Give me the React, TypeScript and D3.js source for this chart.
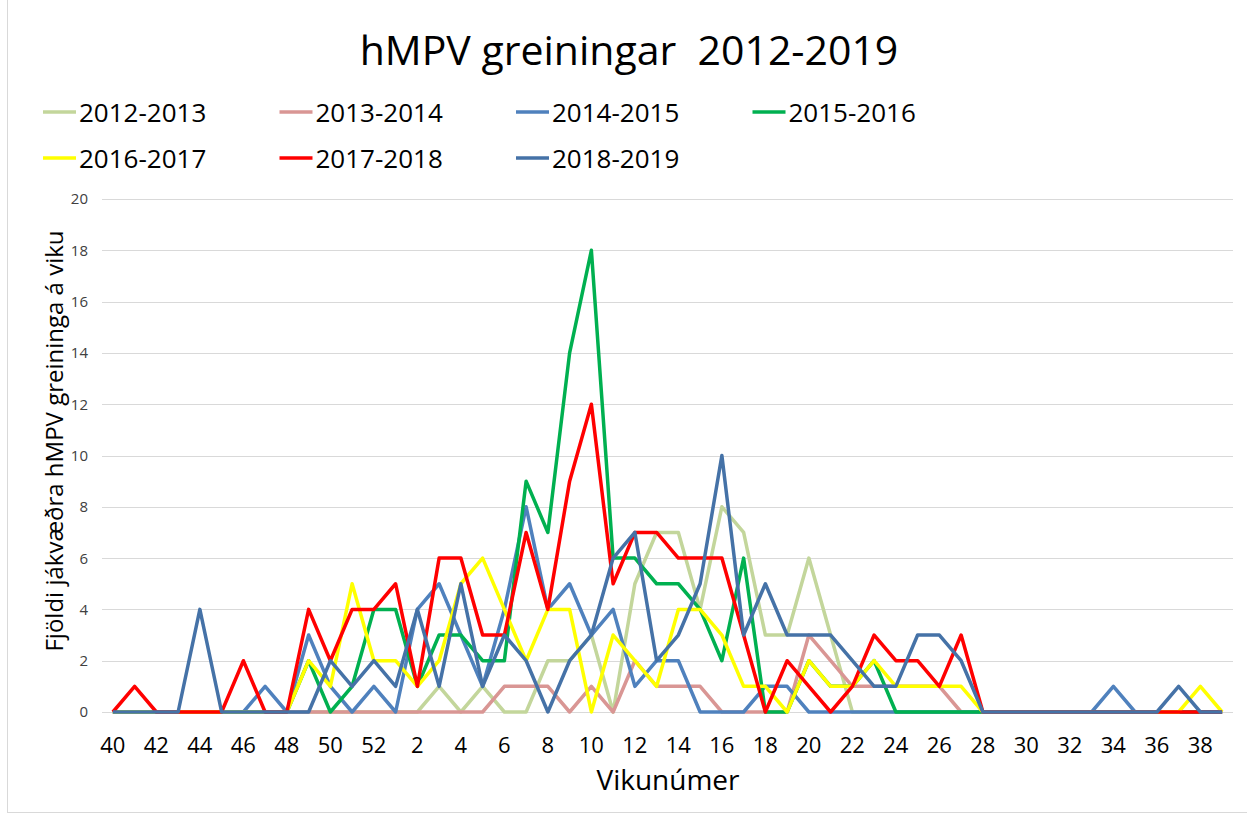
import React, { useEffect, useRef } from 'react';
import * as d3 from 'd3';

// Vikur 40-52 og 1-39
const weeks: number[] = [
  40, 41, 42, 43, 44, 45, 46, 47, 48, 49, 50, 51, 52,
  1, 2, 3, 4, 5, 6, 7, 8, 9, 10, 11, 12, 13, 14, 15, 16, 17, 18, 19, 20,
  21, 22, 23, 24, 25, 26, 27, 28, 29, 30, 31, 32, 33, 34, 35, 36, 37, 38, 39,
];

const s2012: number[] = [
  0, 0, 0, 0, 0, 0, 0, 0, 0, 0, 0, 0, 0,
  0, 0, 1, 0, 1, 0, 0, 2, 2, 3, 0, 5, 7, 7, 4, 8, 7, 3, 3, 6,
  3, 0, 0, 0, 0, 0, 0, 0, 0, 0, 0, 0, 0, 0, 0, 0, 0, 0, 0,
];
const s2013: number[] = [
  0, 0, 0, 0, 0, 0, 0, 0, 0, 0, 0, 0, 0,
  0, 0, 0, 0, 0, 1, 1, 1, 0, 1, 0, 2, 1, 1, 1, 0, 0, 0, 0, 3,
  2, 1, 1, 1, 1, 1, 0, 0, 0, 0, 0, 0, 0, 0, 0, 0, 0, 0, 0,
];
const s2014: number[] = [
  0, 0, 0, 0, 0, 0, 0, 1, 0, 3, 1, 0, 1,
  0, 4, 5, 3, 1, 4, 8, 4, 5, 3, 4, 1, 2, 2, 0, 0, 0, 1, 1, 0,
  0, 0, 0, 0, 0, 0, 0, 0, 0, 0, 0, 0, 0, 1, 0, 0, 0, 0, 0,
];
const s2015: number[] = [
  0, 0, 0, 0, 0, 0, 0, 0, 0, 2, 0, 1, 4,
  4, 1, 3, 3, 2, 2, 9, 7, 14, 18, 6, 6, 5, 5, 4, 2, 6, 0, 0, 2,
  1, 1, 2, 0, 0, 0, 0, 0, 0, 0, 0, 0, 0, 0, 0, 0, 0, 0, 0,
];
const s2016: number[] = [
  0, 0, 0, 0, 0, 0, 0, 0, 0, 2, 1, 5, 2,
  2, 1, 2, 5, 6, 4, 2, 4, 4, 0, 3, 2, 1, 4, 4, 3, 1, 1, 0, 2,
  1, 1, 2, 1, 1, 1, 1, 0, 0, 0, 0, 0, 0, 0, 0, 0, 0, 1, 0,
];
const s2017: number[] = [
  0, 1, 0, 0, 0, 0, 2, 0, 0, 4, 2, 4, 4,
  5, 1, 6, 6, 3, 3, 7, 4, 9, 12, 5, 7, 7, 6, 6, 6, 3, 0, 2, 1,
  0, 1, 3, 2, 2, 1, 3, 0, 0, 0, 0, 0, 0, 0, 0, 0, 0, 0, 0,
];
const s2018: number[] = [
  0, 0, 0, 0, 4, 0, 0, 0, 0, 0, 2, 1, 2,
  1, 4, 1, 5, 1, 3, 2, 0, 2, 3, 6, 7, 2, 3, 5, 10, 3, 5, 3, 3,
  3, 2, 1, 1, 3, 3, 2, 0, 0, 0, 0, 0, 0, 0, 0, 0, 1, 0, 0,
];

const seasonNames = ['2012-2013', '2013-2014', '2014-2015', '2015-2016', '2016-2017', '2017-2018', '2018-2019'];
const seasonColors = ['#C3D69B', '#D99694', '#4F81BD', '#00B050', '#FFFF00', '#FF0000', '#4572A7'];
const seasonValues = [s2012, s2013, s2014, s2015, s2016, s2017, s2018];

const yTicks = [0, 2, 4, 6, 8, 10, 12, 14, 16, 18, 20];
const xTickWeeks = weeks.filter((w, i) => i % 2 === 0);

const FONT = '"Open Sans", sans-serif';

const HmpvChart: React.FC = () => {
  const svgRef = useRef<SVGSVGElement>(null);

  useEffect(() => {
    if (!svgRef.current) return;
    const svg = d3.select(svgRef.current);
    svg.selectAll('*').remove();

    const W = 1247;
    const H = 814;
    const plot = { left: 102, right: 1233, top: 199, bottom: 712 };

    svg.append('rect').attr('width', W).attr('height', H).attr('fill', '#fff');

    // ramminn
    svg.append('line')
      .attr('x1', 7.5).attr('x2', 7.5).attr('y1', 0).attr('y2', 813)
      .attr('stroke', '#d9d9d9');
    svg.append('line')
      .attr('x1', 7.5).attr('x2', W).attr('y1', 812.5).attr('y2', 812.5)
      .attr('stroke', '#d9d9d9');

    const x = d3.scalePoint<number>()
      .domain(weeks)
      .range([plot.left, plot.right])
      .padding(0.5);

    const y = d3.scaleLinear()
      .domain([0, 20])
      .range([plot.bottom, plot.top]);

    // Grid lines
    svg.append('g')
      .selectAll('line')
      .data(yTicks)
      .enter()
      .append('line')
      .attr('x1', plot.left)
      .attr('x2', plot.right)
      .attr('y1', d => Math.round(y(d)) + 0.5)
      .attr('y2', d => Math.round(y(d)) + 0.5)
      .attr('stroke', '#d9d9d9')
      .attr('stroke-width', 1);

    // y ticks
    svg.append('g')
      .selectAll('text')
      .data(yTicks)
      .enter()
      .append('text')
      .attr('x', 88)
      .attr('y', d => y(d))
      .attr('dy', '0.36em')
      .attr('text-anchor', 'end')
      .attr('font-family', FONT)
      .attr('font-size', 15)
      .attr('fill', '#404040')
      .text(d => d);

    // x ticks
    svg.append('g')
      .selectAll('text')
      .data(xTickWeeks)
      .enter()
      .append('text')
      .attr('x', d => x(d) as number)
      .attr('y', 753)
      .attr('text-anchor', 'middle')
      .attr('font-family', FONT)
      .attr('font-size', 22)
      .attr('fill', '#000')
      .text(d => d);

    // Lines
    const line = d3.line<number>()
      .x((d, i) => x(weeks[i]) as number)
      .y(d => y(d));

    seasonValues.forEach((vals, k) => {
      svg.append('path')
        .datum(vals)
        .attr('fill', 'none')
        .attr('stroke', seasonColors[k])
        .attr('stroke-width', 3.5)
        .attr('stroke-linejoin', 'round')
        .attr('d', line);
    });

    // Title
    svg.append('text')
      .attr('x', 629)
      .attr('y', 65)
      .attr('text-anchor', 'middle')
      .attr('font-family', FONT)
      .attr('font-size', 41)
      .attr('fill', '#000')
      .attr('xml:space', 'preserve')
      .style('white-space', 'pre')
      .text('hMPV greiningar  2012-2019');

    // Legend
    const legend = svg.append('g');
    seasonNames.forEach((name, k) => {
      const col = k % 4;
      const row = Math.floor(k / 4);
      const lx = 43 + col * 236.5;
      const ly = 112 + row * 46;
      legend.append('line')
        .attr('x1', lx).attr('x2', lx + 33)
        .attr('y1', ly).attr('y2', ly)
        .attr('stroke', seasonColors[k])
        .attr('stroke-width', 3.5);
      legend.append('text')
        .attr('x', lx + 36)
        .attr('y', ly + 10)
        .attr('font-family', FONT)
        .attr('font-size', 26)
        .attr('fill', '#000')
        .text(name);
    });

    // Axis titles
    svg.append('text')
      .attr('x', 668)
      .attr('y', 790)
      .attr('text-anchor', 'middle')
      .attr('font-family', FONT)
      .attr('font-size', 28)
      .attr('fill', '#000')
      .text('Vikunúmer');

    svg.append('text')
      .attr('transform', 'translate(63,441) rotate(-90)')
      .attr('text-anchor', 'middle')
      .attr('font-family', FONT)
      .attr('font-size', 24)
      .attr('fill', '#000')
      .text('Fjöldi jákvæðra hMPV greininga á viku');
  }, []);

  return (
    <svg
      ref={svgRef}
      width={1247}
      height={814}
      style={{ position: 'absolute', left: 0, top: 0, display: 'block' }}
    />
  );
};

export default function App() {
  return <HmpvChart />;
}
